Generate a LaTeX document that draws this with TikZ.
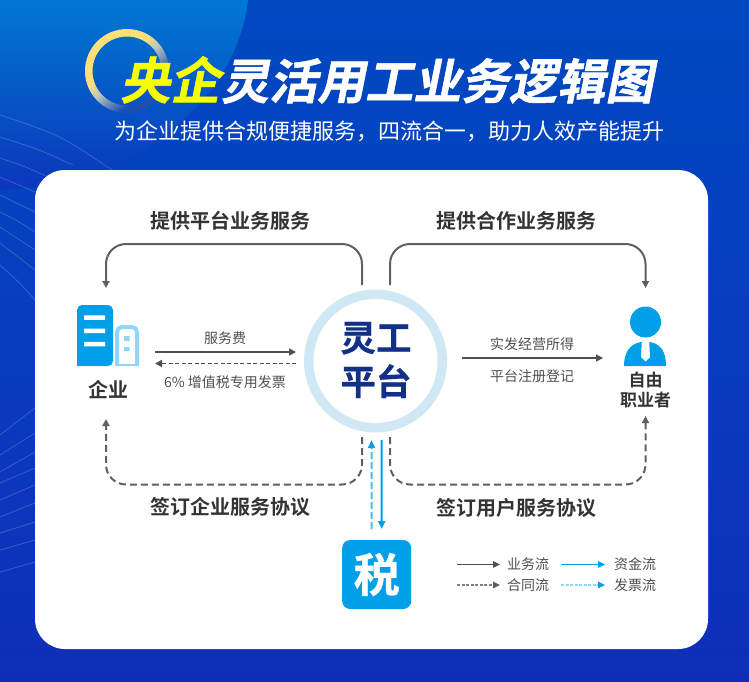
\documentclass[tikz,border=0pt]{standalone}
\usepackage{fontspec}
\newfontfamily\cjk{Noto Sans CJK SC}[BoldFont={Noto Sans CJK SC Bold}]
\newfontfamily\cjkheavy{Noto Sans CJK SC Bold}[FakeBold=1.2]
\newfontfamily\cjkmedium{Noto Sans CJK SC Bold}[FakeBold=.6]
\usetikzlibrary{arrows.meta,calc}
\definecolor{bgTop}{HTML}{0049C1}
\definecolor{bgBot}{HTML}{0F2FB9}
\definecolor{glowTop}{HTML}{0078D2}
\definecolor{skyBlue}{HTML}{00A0E9}
\definecolor{paleBlue}{HTML}{8FD6FA}
\definecolor{ringBlue}{HTML}{D0E8F4}
\definecolor{navy}{HTML}{123088}
\definecolor{flowGrey}{HTML}{606060}
\definecolor{labelDark}{HTML}{333333}
\definecolor{labelMid}{HTML}{505050}
\definecolor{title}{HTML}{F6FF00}
\definecolor{ringGold}{HTML}{FFDF7A}
\definecolor{ringPale}{HTML}{BCC8BC}
\definecolor{ringFade}{HTML}{1A4FB4}
\pgfdeclareverticalshading{ringwash}{100bp}{
  color(0bp)=(ringFade); color(34bp)=(ringFade); color(50bp)=(ringPale);
  color(58bp)=(ringGold); color(100bp)=(ringGold)}
\tikzset{
  txt/.style={inner sep=0pt,outer sep=0pt,font=\cjk},
  bigLabel/.style={txt,text=labelDark,font=\cjk\bfseries\fontsize{20}{24}\selectfont},
  smallLabel/.style={txt,text=labelMid,font=\cjk\fontsize{14}{17}\selectfont},
  tipGrey/.style={-{Triangle[length=7pt,width=7pt]}},
  bigFlow/.style={draw=flowGrey,line width=2pt,rounded corners=20pt,tipGrey},
  bigDash/.style={bigFlow,dash pattern=on 7pt off 4pt},
  midFlow/.style={draw=labelMid,line width=1.5pt,-{Triangle[length=7pt,width=7pt]}},
  midDash/.style={midFlow,line width=1.8pt,dash pattern=on 4pt off 2.5pt},
  keyLine/.style={line width=1.1pt,-{Triangle[length=7pt,width=6.5pt]}},
  ripple/.style={draw=white,opacity=.2,line width=.75pt}
}
\begin{document}
\begin{tikzpicture}[x=1pt,y=-1pt]
\useasboundingbox (0,0) rectangle (749,681);
% backdrop
\shade[top color=bgTop,bottom color=bgBot] (0,0) rectangle (749,681);
\shade[top color=glowTop,bottom color=bgBot!75!bgTop]
  (0,0) -- (248,0) .. controls (240,70) and (190,130) .. (110,168)
  .. controls (80,180) and (40,188) .. (0,190) -- cycle;
% ripple lines on the left edge
\foreach \ya/\xb/\yb/\xm/\ym in {115/112/170/60/135,137/73/165/38/149,158/48/177/24/166,177/35/192/18/184,
  195/35/212/18/203,212/35/232/18/221,227/35/250/18/238,243/35/270/18/256,265/35/300/18/281}
  \draw[ripple] (0,\ya) .. controls (\xm,\ym) .. (\xb,\yb);
\foreach \ya/\yb in {435/408,455/433,472/452,483/468,500/485,517/503,533/522,550/540,572/562}
  \draw[ripple] (0,\ya) -- (35,\yb);
% fading gold ring
\shade[even odd rule,shading=ringwash,shading angle=40]
  (127,71) circle (42) (127,71) circle (34.5);
% headline
\node[txt,transform shape,xslant=.2,text=white,font=\cjkheavy\fontsize{48}{56}\selectfont]
  (headline) at (390.5,80) {{\color{title}\fontsize{50}{56}\selectfont 央企}\hspace{1pt}灵活用工业务逻辑图};
\node[txt,text=white,font=\cjk\fontsize{22}{26}\selectfont] (subline) at (389,131)
  {为企业提供合规便捷服务，四流合一，助力人效产能提升};
% card
\fill[white,rounded corners=30pt] (35,170) rectangle (708,649);
% platform hub
\node[circle,fill=ringBlue,minimum size=143pt,inner sep=0pt,outer sep=0pt] (platform) at (375.5,361) {};
\fill[white] (platform.center) circle (62);
\node[txt,text=navy,align=center,font=\cjkmedium\fontsize{35.5}{44}\selectfont] (hubtext) at (376,360) {灵工\\平台};
% enterprise icon
\node[inner sep=0pt,outer sep=0pt,minimum width=62pt,minimum height=61pt] (ent) at (108,335.5) {};
\fill[skyBlue,rounded corners=5pt] (77,366) -- (77,305) -- (113,305) -- (113,366) [sharp corners] -- cycle;
\fill[white] (84,315.3) rectangle (105,319.8) (84,328.5) rectangle (105,333) (84,341.8) rectangle (105,346.3);
\draw[paleBlue,line width=4pt,rounded corners=5pt] (117,366) -- (117,327) -- (137,327) -- (137,366);
\fill[paleBlue] (115,364.3) rectangle (139,366);
\fill[paleBlue] (124,336) rectangle (129.5,341) (124,347) rectangle (129.5,351);
\node[bigLabel] (entlabel) at (108,390) {企业};
% freelancer icon
\node[circle,fill=skyBlue,minimum size=31pt,inner sep=0pt,outer sep=0pt] (worker) at (645.5,322) {};
\fill[skyBlue] (624,366) .. controls (624,352) and (630,344) .. (641,342) -- (650,342)
  .. controls (661,344) and (666,352) .. (666,366) -- cycle;
\fill[white] (641.8,342) -- (649.2,342) -- (650,357) -- (645.5,361.5) -- (641,357) -- cycle;
\node[txt,text=labelDark,align=center,font=\cjk\bfseries\fontsize{17}{20}\selectfont] (workerlabel) at (645.5,390) {自由\\职业者};
% tax badge
\node[fill=skyBlue,rounded corners=8pt,minimum size=69pt,inner sep=0pt,outer sep=0pt,text=white,
  font=\cjkmedium\fontsize{46}{50}\selectfont] (tax) at (376.7,574.5) {税};
% anchor points for the large loops
\coordinate (pfTopL) at ($(platform.center)+(-13.5,-76)$);
\coordinate (pfTopR) at ($(platform.center)+(14.5,-76)$);
\coordinate (pfBotL) at ($(platform.center)+(-13.5,76)$);
\coordinate (pfBotR) at ($(platform.center)+(14.5,76)$);
\coordinate (entUp) at (106,288);
\coordinate (entDown) at (106,419);
\coordinate (wkUp) at ($(worker.north)+(0,-18.5)$);
\coordinate (wkDown) at ($(workerlabel.south)+(0,8)$);
\coordinate (railTL) at (234,244);
\coordinate (railTR) at (517,244);
\coordinate (railBL) at (234,484.5);
\coordinate (railBR) at (517,484.5);
\draw[bigFlow] (pfTopL) |- (railTL) -| (entUp);
\draw[bigFlow] (pfTopR) |- (railTR) -| (wkUp);
\draw[bigDash] (pfBotL) |- (railBL) -| (entDown);
\draw[bigDash] (pfBotR) |- (railBR) -| (wkDown);
% loop captions
\node[bigLabel] (capA) at (230,221) {提供平台业务服务};
\node[bigLabel] (capB) at (516,221) {提供合作业务服务};
\node[bigLabel] (capC) at (230,507) {签订企业服务协议};
\node[bigLabel] (capD) at (516,508) {签订用户服务协议};
% flows between enterprise and platform
\coordinate (eA) at ($(ent.east)+(16,16.5)$);
\coordinate (pA) at ($(platform.west)+(-8,-9)$);
\coordinate (eB) at ($(ent.east)+(16,28)$);
\coordinate (pB) at ($(platform.west)+(-8,2.5)$);
\draw[midFlow] (eA) -- (pA);
\draw[midDash] (pB) -- (eB);
\node[smallLabel] (feeText) at (225,338) {服务费};
\node[smallLabel] (invoiceText) at (225,382) {6\% 增值税专用发票};
% flow from platform to freelancer
\coordinate (pC) at ($(platform.east)+(15,-3)$);
\coordinate (wC) at ($(worker.west)+(-27,36)$);
\draw[midFlow] (pC) -- (wC);
\node[smallLabel] (incomeText) at (532,344) {实发经营所得};
\node[smallLabel] (registerText) at (532,376) {平台注册登记};
% flows between tax badge and platform
\coordinate (tUp) at ($(tax.north)+(-5,-11)$);
\coordinate (pUp) at ($(platform.center)+(-4,79)$);
\coordinate (tDn) at ($(tax.north)+(5,-11)$);
\coordinate (pDn) at ($(platform.center)+(6,79)$);
\draw[draw=skyBlue!70!white,line width=2pt,dash pattern=on 7pt off 3pt,-{Triangle[length=8pt,width=7pt,color=skyBlue]}] (tUp) -- (pUp);
\draw[draw=skyBlue,line width=2pt,-{Triangle[length=8pt,width=7pt]}] (pDn) -- (tDn);
% key
\coordinate (k1a) at (457,564.5); \coordinate (k1b) at (500,564.5);
\coordinate (k2a) at (457,585);   \coordinate (k2b) at (500,585);
\coordinate (k3a) at (561,564.5); \coordinate (k3b) at (605,564.5);
\coordinate (k4a) at (561,585);   \coordinate (k4b) at (605,585);
\draw[keyLine,draw=labelMid] (k1a) -- (k1b);
\draw[keyLine,draw=flowGrey!80!white,dash pattern=on 3pt off 1.5pt,-{Triangle[length=7pt,width=6.5pt,color=flowGrey]}] (k2a) -- (k2b);
\draw[keyLine,draw=skyBlue] (k3a) -- (k3b);
\draw[draw=paleBlue,line width=1.1pt,dash pattern=on 3pt off 1.5pt,-{Triangle[length=7pt,width=6.5pt,color=skyBlue]}] (k4a) -- (k4b);
\node[smallLabel] (keyA) at (528,564.5) {业务流};
\node[smallLabel] (keyB) at (528,585.5) {合同流};
\node[smallLabel] (keyC) at (635,564.5) {资金流};
\node[smallLabel] (keyD) at (635,585.5) {发票流};
\end{tikzpicture}
\end{document}
